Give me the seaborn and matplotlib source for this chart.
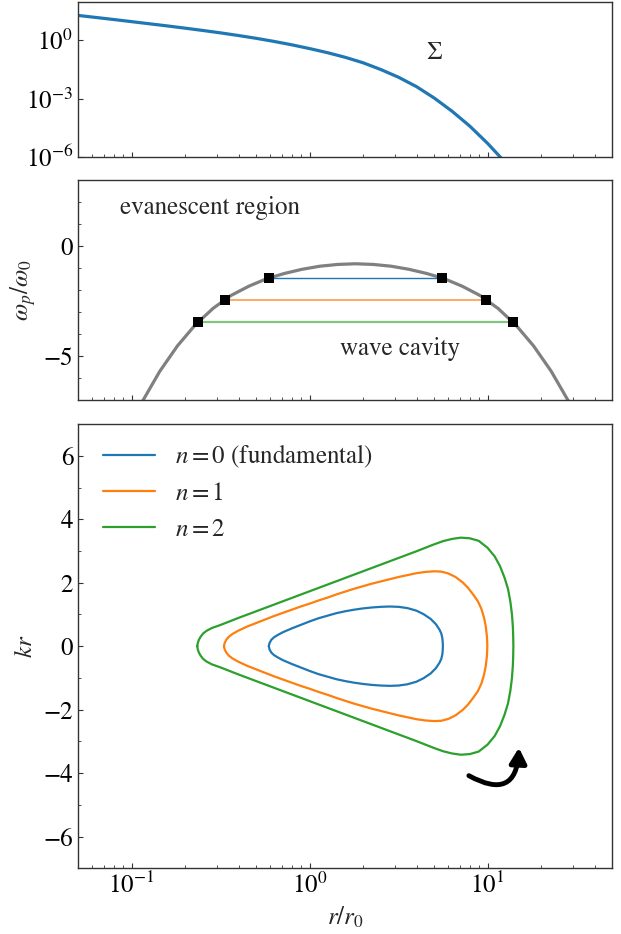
import matplotlib
matplotlib.use('Agg')
import matplotlib.pyplot as plt
from matplotlib.ticker import FixedLocator, NullLocator, MultipleLocator
import seaborn as sns

# surface density Sigma(r)
sigma_r = [0.0501, 0.0631, 0.0794, 0.1, 0.1259, 0.1585, 0.1995, 0.2512, 0.3162, 0.3981,
           0.5012, 0.631, 0.7943, 1.0, 1.259, 1.585, 1.995, 2.512, 3.162, 3.981, 5.012,
           6.31, 7.943, 10.0, 12.59]
sigma_val = [19.50, 15.31, 12.02, 9.333, 7.244, 5.623, 4.315, 3.273, 2.455, 1.799, 1.288,
             0.8913, 0.5957, 0.3802, 0.2344, 0.1349, 0.07079, 0.03162, 0.01259, 4.169e-3,
             1.072e-3, 2.239e-4, 3.802e-5, 4.9e-6, 5.0e-7]

# omega_p / omega_0 boundary curve
omega_r = [0.0908, 0.1143, 0.1439, 0.1811, 0.2280, 0.2871, 0.3614, 0.4550, 0.5728, 0.7211,
           0.9078, 1.143, 1.439, 1.811, 2.280, 2.871, 3.614, 4.550, 5.728, 7.211, 9.078,
           11.43, 14.39, 18.11, 22.80, 28.71, 36.14]
omega_val = [-8.7, -7.08, -5.68, -4.52, -3.57, -2.82, -2.24, -1.82, -1.48, -1.24, -1.05,
             -0.91, -0.83, -0.80, -0.83, -0.91, -1.05, -1.24, -1.48, -1.82, -2.24, -2.82,
             -3.57, -4.52, -5.68, -7.08, -8.7]

# mode levels and turning points
mode_level = [-1.45, -2.45, -3.44]
mode_r_in = [0.589, 0.333, 0.235]
mode_r_out = [5.56, 9.84, 13.9]
mode_labels = ['$n=0$ (fundamental)', '$n=1$', '$n=2$']

# kr contours, upper half (the lower half is its mirror image)
n0_r = [0.5902, 0.5957, 0.6095, 0.6310, 0.6607, 0.7079, 0.7943, 0.8913, 1.0, 1.122, 1.259,
        1.413, 1.585, 1.778, 1.995, 2.239, 2.512, 2.818, 3.162, 3.548, 3.981, 4.365, 4.786,
        5.129, 5.370, 5.495, 5.572, 5.598, 5.610]
n0_kr = [0, 0.10, 0.20, 0.28, 0.35, 0.44, 0.56, 0.67, 0.78, 0.88, 0.96, 1.04, 1.10, 1.15,
         1.19, 1.22, 1.24, 1.25, 1.24, 1.20, 1.12, 1.01, 0.86, 0.69, 0.52, 0.40, 0.25, 0.12, 0]

n1_r = [0.3304, 0.3334, 0.3404, 0.3508, 0.3673, 0.3981, 0.4467, 0.5012, 0.5623, 0.6310,
        0.7079, 0.7943, 0.8913, 1.0, 1.122, 1.259, 1.413, 1.585, 1.778, 1.995, 2.239, 2.512,
        2.818, 3.162, 3.548, 3.981, 4.467, 5.012, 5.495, 6.026, 6.607, 7.244, 7.762, 8.318,
        8.810, 9.226, 9.550, 9.772, 9.908, 9.954, 9.966]
n1_kr = [0, 0.10, 0.20, 0.29, 0.38, 0.49, 0.62, 0.73, 0.84, 0.95, 1.05, 1.15, 1.25, 1.34,
         1.44, 1.53, 1.63, 1.72, 1.81, 1.89, 1.97, 2.04, 2.11, 2.18, 2.24, 2.30, 2.34, 2.36,
         2.35, 2.29, 2.18, 2.01, 1.84, 1.62, 1.42, 1.18, 0.90, 0.62, 0.32, 0.12, 0]

n2_r = [0.2339, 0.2355, 0.2388, 0.2443, 0.2523, 0.2630, 0.2818, 0.3162, 0.3548, 0.3981,
        0.5012, 0.6310, 0.7943, 1.0, 1.259, 1.585, 1.995, 2.512, 3.162, 3.981, 4.467, 5.012,
        5.623, 6.310, 7.079, 7.943, 8.913, 10.0, 10.96, 11.75, 12.45, 13.03, 13.43, 13.71,
        13.87, 13.93, 13.96]
n2_kr = [0, 0.10, 0.20, 0.30, 0.40, 0.48, 0.57, 0.67, 0.78, 0.89, 1.10, 1.31, 1.52, 1.73,
         1.94, 2.15, 2.36, 2.57, 2.78, 2.99, 3.10, 3.21, 3.31, 3.38, 3.42, 3.40, 3.32, 3.10,
         2.83, 2.52, 2.16, 1.80, 1.40, 1.00, 0.60, 0.30, 0]

sns.set_style('ticks')
plt.rcParams['font.family'] = ['STIXGeneral', 'DejaVu Serif']
plt.rcParams['mathtext.fontset'] = 'stix'
plt.rcParams['font.size'] = 18
plt.rcParams['axes.linewidth'] = 1.0
plt.rcParams['axes.edgecolor'] = '.2'
for a in ['xtick', 'ytick']:
    plt.rcParams[a + '.direction'] = 'in'
    plt.rcParams[a + '.color'] = '.2'
    plt.rcParams[a + '.labelcolor'] = 'black'
    plt.rcParams[a + '.labelsize'] = 18

fig = plt.figure(figsize=(6.21, 9.34), dpi=100)
ax1 = fig.add_axes((0.1256, 0.8322, 0.8599, 0.1660))
ax2 = fig.add_axes((0.1256, 0.5712, 0.8599, 0.2361))
ax3 = fig.add_axes((0.1256, 0.0703, 0.8599, 0.4757))

# top panel: Sigma
sns.lineplot(x=sigma_r, y=sigma_val, ax=ax1, color='C0', lw=2.3, estimator=None)
ax1.set_yscale('log')
ax1.set_ylim(1e-6, 1e2)
ax1.yaxis.set_major_locator(FixedLocator([1e-6, 1e-3, 1e0]))
ax1.yaxis.set_minor_locator(NullLocator())
ax1.text(5.0, 0.22, r'$\Sigma$', ha='center', va='center', fontsize=18)

# middle panel: omega_p / omega_0
sns.lineplot(x=omega_r, y=omega_val, ax=ax2, color='gray', lw=2.3, estimator=None)
line_alpha = [1.0, 0.7, 0.6]
line_w = [1.0, 1.3, 1.6]
for i in range(3):
    sns.lineplot(x=[mode_r_in[i], mode_r_out[i]], y=[mode_level[i], mode_level[i]], ax=ax2,
                 color='C%d' % i, lw=line_w[i], alpha=line_alpha[i], estimator=None)
sns.scatterplot(x=mode_r_in + mode_r_out, y=mode_level + mode_level, ax=ax2, color='black',
                marker='s', s=62, edgecolor='black', linewidth=0, zorder=5)
ax2.set_ylim(-7, 3)
ax2.yaxis.set_major_locator(MultipleLocator(5))
ax2.yaxis.set_minor_locator(MultipleLocator(1))
ax2.set_ylabel(r'$\omega_p/\omega_0$')
ax2.text(0.0865, 1.75, 'evanescent region', ha='left', va='center', fontsize=18)
ax2.text(1.49, -4.66, 'wave cavity', ha='left', va='center', fontsize=18)

# bottom panel: kr contours
for i, (rr, kk) in enumerate([(n0_r, n0_kr), (n1_r, n1_kr), (n2_r, n2_kr)]):
    xs = rr + rr[::-1]
    ys = kk + [-v for v in kk[::-1]]
    sns.lineplot(x=xs, y=ys, ax=ax3, color='C%d' % i, lw=1.6, sort=False, estimator=None,
                 label=mode_labels[i])
ax3.set_ylim(-7, 7)
ax3.yaxis.set_major_locator(MultipleLocator(2))
ax3.yaxis.set_minor_locator(MultipleLocator(1))
ax3.set_ylabel(r'$kr$')
ax3.set_xlabel(r'$r/r_0$')
ax3.legend(loc='upper left', bbox_to_anchor=(0.029, 0.98), frameon=False, fontsize=18,
           handlelength=2.05, handletextpad=0.8, labelspacing=0.48, borderaxespad=0)
ax3.annotate('', xy=(15.0, -3.20), xytext=(7.85, -4.08),
             arrowprops=dict(arrowstyle='-|>,head_length=0.45,head_width=0.25',
                             connectionstyle='arc3,rad=0.8', color='black', lw=3.5,
                             mutation_scale=20, shrinkA=0, shrinkB=0))

for ax in (ax1, ax2, ax3):
    ax.set_xscale('log')
    ax.set_xlim(0.05, 50)
    ax.tick_params(which='both', top=False, right=False)
for ax in (ax1, ax2):
    ax.tick_params(labelbottom=False)

fig.savefig('out.png', dpi=100)
